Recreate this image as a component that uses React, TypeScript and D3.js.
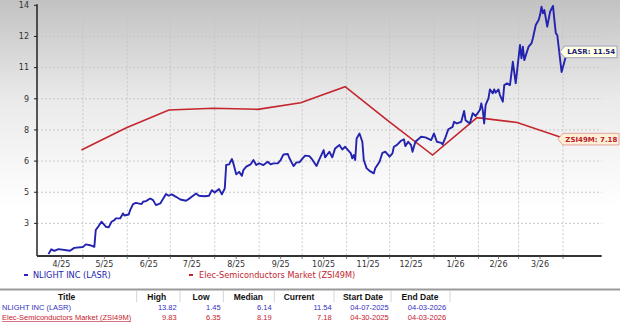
import React from "react";
import * as d3 from "d3";

const lasrDates = [
  "2025-04-07","2025-04-09","2025-04-11","2025-04-14","2025-04-22","2025-04-25","2025-05-01","2025-05-03","2025-05-06","2025-05-09",
  "2025-05-10","2025-05-12","2025-05-14","2025-05-17","2025-05-19","2025-05-21","2025-05-23","2025-05-24","2025-05-27","2025-05-29",
  "2025-05-30","2025-06-02","2025-06-03","2025-06-05","2025-06-07","2025-06-11","2025-06-12","2025-06-14","2025-06-17","2025-06-19",
  "2025-06-21","2025-06-24","2025-06-28","2025-06-30","2025-07-02","2025-07-05","2025-07-08","2025-07-12","2025-07-15","2025-07-19",
  "2025-07-21","2025-07-25","2025-07-28","2025-07-30","2025-08-01","2025-08-02","2025-08-04","2025-08-06","2025-08-08","2025-08-09",
  "2025-08-11","2025-08-13","2025-08-14","2025-08-16","2025-08-18","2025-08-20","2025-08-21","2025-08-23","2025-08-26","2025-08-28",
  "2025-08-30","2025-09-01","2025-09-04","2025-09-07","2025-09-09","2025-09-11","2025-09-14","2025-09-16","2025-09-18","2025-09-21",
  "2025-09-22","2025-09-25","2025-09-27","2025-09-29","2025-10-03","2025-10-06","2025-10-08","2025-10-11","2025-10-13","2025-10-16",
  "2025-10-17","2025-10-20","2025-10-22","2025-10-24","2025-10-27","2025-10-29","2025-10-31","2025-11-02","2025-11-04","2025-11-05",
  "2025-11-06","2025-11-07","2025-11-08","2025-11-10","2025-11-12","2025-11-13","2025-11-15","2025-11-17","2025-11-20","2025-11-21",
  "2025-11-24","2025-11-26","2025-11-28","2025-12-01","2025-12-03","2025-12-04","2025-12-06","2025-12-09","2025-12-11","2025-12-12",
  "2025-12-14","2025-12-16","2025-12-17","2025-12-19","2025-12-23","2025-12-26","2025-12-30","2026-01-01","2026-01-03","2026-01-06",
  "2026-01-07","2026-01-09","2026-01-11","2026-01-14","2026-01-15","2026-01-17","2026-01-20","2026-01-22","2026-01-23","2026-01-26",
  "2026-01-28","2026-01-30","2026-02-02","2026-02-03","2026-02-04","2026-02-05","2026-02-06","2026-02-08","2026-02-09","2026-02-11",
  "2026-02-12","2026-02-13","2026-02-15","2026-02-16","2026-02-18","2026-02-19","2026-02-21","2026-02-23","2026-02-25","2026-02-27",
  "2026-03-02","2026-03-03","2026-03-04","2026-03-05","2026-03-08","2026-03-10","2026-03-11","2026-03-13","2026-03-15","2026-03-16",
  "2026-03-17","2026-03-18","2026-03-19","2026-03-21","2026-03-23","2026-03-25","2026-03-26","2026-03-27","2026-03-28","2026-03-31",
  "2026-04-03"
];
const lasrValues = [
  2.02,2.25,2.18,2.26,2.18,2.32,2.36,2.49,2.45,2.37,
  3.18,3.37,3.58,3.34,3.31,3.58,3.66,3.74,3.74,3.98,
  3.88,3.93,4.14,4.43,4.49,4.43,4.54,4.57,4.70,4.62,
  4.38,4.46,4.91,4.83,4.90,4.78,4.65,4.59,4.73,4.94,
  4.83,4.81,4.83,5.10,4.99,5.05,5.15,4.90,5.18,6.31,
  6.34,6.60,6.39,5.86,5.98,5.79,6.07,6.23,6.34,6.55,
  6.31,6.39,6.31,6.47,6.34,6.39,6.39,6.55,6.82,6.84,
  6.66,6.26,6.44,6.44,6.76,6.74,6.58,6.26,6.58,7.03,
  6.68,6.95,6.68,7.11,7.27,7.06,7.19,7.03,6.87,6.63,
  6.79,6.55,7.59,7.83,7.43,6.55,6.15,6.03,5.91,6.15,
  6.47,6.90,6.95,6.71,6.87,7.19,7.27,7.48,7.55,7.22,
  7.43,7.27,6.95,7.43,7.67,7.64,7.51,7.83,7.43,7.38,
  7.30,7.64,8.03,8.15,8.39,8.31,8.39,8.91,8.47,8.31,
  8.80,8.67,8.96,9.28,8.96,8.31,9.20,9.52,9.95,9.76,
  9.95,9.79,9.95,9.68,9.36,10.16,10.24,10.16,11.28,10.24,
  12.09,11.45,12.01,11.36,12.01,12.17,12.41,13.05,13.29,13.53,
  13.93,13.61,13.77,12.97,13.69,13.97,13.29,12.65,12.57,10.79,
  11.54
];

const zsiDates = [
  "2025-04-30","2025-05-31","2025-06-30","2025-07-31","2025-08-31","2025-09-30",
  "2025-10-31","2025-11-30","2025-12-31","2026-01-31","2026-02-28","2026-03-31","2026-04-03"
];
const zsiValues = [7.03, 8.09, 8.96, 9.04, 8.99, 9.31, 10.08, 8.43, 6.79, 8.59, 8.36, 7.64, 7.58];

const yTickValues = [3.5, 5, 6.5, 8, 9.5, 11, 12.5, 14];
const yTickLabels = ["3", "5", "6", "8", "9", "11", "12", "14"];

const xTickLabels = ["4/25","5/25","6/25","7/25","8/25","9/25","10/25","11/25","12/25","1/26","2/26","3/26"];
const xTickDates = ["2025-04-16","2025-05-16","2025-06-16","2025-07-16","2025-08-16","2025-09-16","2025-10-16","2025-11-16","2025-12-16","2026-01-16","2026-02-15","2026-03-16"];

const seriesNames = ["NLIGHT INC (LASR)", "Elec-Semiconductors Market (ZSI49M)"];
const seriesColors = ["#2323b0", "#c4262e"];
const labelTexts = ["LASR: 11.54", "ZSI49M: 7.18"];

const tableHeaders = ["Title", "High", "Low", "Median", "Current", "Start Date", "End Date"];
const tableRows = [
  ["NLIGHT INC (LASR)", "13.82", "1.45", "6.14", "11.54", "04-07-2025", "04-03-2026"],
  ["Elec-Semiconductors Market (ZSI49M)", "9.83", "6.35", "8.19", "7.18", "04-30-2025", "04-03-2026"],
];

const parse = d3.timeParse("%Y-%m-%d");

export default function App() {
  const W = 620, H = 323;
  const left = 37, right = 601.7, top = 5.3, bottom = 256;
  const x = d3.scaleTime().domain([parse("2025-03-30")!, parse("2026-04-28")!]).range([left, right]);
  const y = d3.scaleLinear().domain([1.93, 14]).range([bottom, top]);

  const lasr = lasrDates.map((d, i) => ({ d: parse(d)!, v: lasrValues[i] }));
  const zsi = zsiDates.map((d, i) => ({ d: parse(d)!, v: zsiValues[i] }));
  const line = d3.line<{ d: Date; v: number }>().x((p) => x(p.d)).y((p) => y(p.v));

  const monthStarts = d3.timeMonth.range(parse("2025-05-01")!, parse("2026-04-02")!);
  const midTicks = xTickDates.map((d) => parse(d)!);

  const font = "DejaVu Sans, Verdana, sans-serif";
  const tfont = "Liberation Sans, Arial, sans-serif";

  const lastL = lasr[lasr.length - 1];
  const lastZ = zsi[zsi.length - 1];
  const boxes = [
    { tip: x(lastL.d) - 6, cy: y(lastL.v) - 4.5, right: 617, fill: "#ffffe4", stroke: "#8c8cb8", color: "#1c1c7a", text: labelTexts[0] },
    { tip: x(lastZ.d) - 8, cy: y(lastZ.v) + 0.5, right: 619, fill: "#fdf0d6", stroke: "#e09090", color: "#b8202c", text: labelTexts[1] },
  ];
  const boxPath = (tip: number, cy: number, r: number) => {
    const h = 5.8;
    return `M${tip},${cy} L${tip + 5},${cy - h} L${r},${cy - h} L${r},${cy + h} L${tip + 5},${cy + h} Z`;
  };

  const numRight = [176.7, 220.7, 271.7, 331.7];
  const dateCenters = [369.5, 427];
  const headerCenters = [66.7, 156.7, 201, 248.3, 299, 363, 420];
  const colSeps = [136.7, 180, 223.3, 274.3, 334, 391, 450];

  return (
    <svg width={W} height={H} style={{ position: "absolute", left: 0, top: 0, background: "#fff" }}>
      <defs>
        <linearGradient id="bg" x1="0" y1="0" x2="0" y2="1">
          <stop offset="0%" stopColor="#c2c2c2" />
          <stop offset="38%" stopColor="#eaeaea" />
          <stop offset="80%" stopColor="#ffffff" />
        </linearGradient>
      </defs>
      <rect x={0} y={0} width={W} height={260} fill="url(#bg)" />

      {/* grid */}
      {yTickValues.map((t, i) => (
        <line key={"hg" + i} x1={left} x2={right} y1={y(t)} y2={y(t)} stroke="#c4c4c4" strokeDasharray="2,2" strokeWidth={0.9} />
      ))}
      {monthStarts.map((m, i) => (
        <line key={"vg" + i} x1={x(m)} x2={x(m)} y1={top} y2={bottom} stroke="#c4c4c4" strokeDasharray="2,2" strokeWidth={0.9} />
      ))}

      {/* axes */}
      <line x1={left} x2={left} y1={top - 1} y2={bottom} stroke="#222" strokeWidth={1.5} />
      {yTickValues.map((t, i) => (
        <g key={"yt" + i}>
          <line x1={left - 3} x2={left} y1={y(t)} y2={y(t)} stroke="#222" strokeWidth={1} />
          <text x={left - 8} y={y(t)} dy="0.35em" textAnchor="end" fontFamily={font} fontSize={8} fill="#333">
            {yTickLabels[i]}
          </text>
        </g>
      ))}
      <line x1={left} x2={right} y1={bottom} y2={bottom} stroke="#333" strokeWidth={2} />
      {[...monthStarts, ...midTicks].map((m, i) => (
        <line key={"xt" + i} x1={x(m)} x2={x(m)} y1={bottom} y2={bottom + 3} stroke="#555" strokeWidth={0.8} />
      ))}
      {midTicks.map((m, i) => (
        <text key={"xl" + i} x={x(m)} y={264} dy="0.35em" textAnchor="middle" fontFamily={font} fontSize={8} fill="#333">
          {xTickLabels[i]}
        </text>
      ))}

      {/* lines */}
      <path d={line(zsi) || ""} fill="none" stroke={seriesColors[1]} strokeWidth={1.6} />
      <path d={line(lasr) || ""} fill="none" stroke={seriesColors[0]} strokeWidth={1.9} strokeLinejoin="round" />

      {/* end labels */}
      {boxes.map((b, i) => (
        <g key={"bx" + i}>
          <path d={boxPath(b.tip, b.cy, b.right)} fill={b.fill} stroke={b.stroke} strokeWidth={0.8} />
          <text x={b.tip + 7.5} y={b.cy} dy="0.35em" fontFamily={font} fontSize={7} fontWeight="bold" fill={b.color}>
            {b.text}
          </text>
        </g>
      ))}

      {/* legend */}
      <line x1={24} x2={28} y1={275} y2={275} stroke={seriesColors[0]} strokeWidth={2} />
      <text x={33} y={275} dy="0.35em" fontFamily={font} fontSize={8.2} fill={seriesColors[0]}>{seriesNames[0]}</text>
      <line x1={189} x2={193} y1={275} y2={275} stroke={seriesColors[1]} strokeWidth={2} />
      <text x={199} y={275} dy="0.35em" fontFamily={font} fontSize={8.2} fill={seriesColors[1]}>{seriesNames[1]}</text>

      {/* table */}
      <line x1={0} x2={W} y1={289.5} y2={289.5} stroke="#9a9a9a" strokeWidth={1.8} />
      {colSeps.map((c, i) => (
        <line key={"cs" + i} x1={c} x2={c} y1={291} y2={302} stroke="#d4d4d4" strokeWidth={1} />
      ))}
      {tableHeaders.map((h, i) => (
        <text key={"th" + i} x={headerCenters[i]} y={297.5} dy="0.35em" textAnchor="middle" fontFamily={tfont} fontSize={8.5} fontWeight="bold" fill="#111">
          {h}
        </text>
      ))}
      {tableRows.map((row, r) => {
        const cy = 307.5 + r * 10;
        const col = r === 0 ? "#3030c0" : "#c8202c";
        return (
          <g key={"tr" + r}>
            <text x={2} y={cy} dy="0.35em" fontFamily={tfont} fontSize={7.5} fill={col}>{row[0]}</text>
            {r === 1 && <line x1={2} x2={131} y1={cy + 4} y2={cy + 4} stroke="#d86070" strokeWidth={0.9} />}
            {numRight.map((nx, j) => (
              <text key={"n" + j} x={nx} y={cy} dy="0.35em" textAnchor="end" fontFamily={tfont} fontSize={7.5} fill={col}>{row[j + 1]}</text>
            ))}
            {dateCenters.map((dx, j) => (
              <text key={"d" + j} x={dx} y={cy} dy="0.35em" textAnchor="middle" fontFamily={tfont} fontSize={7.5} fill={col}>{row[j + 5]}</text>
            ))}
          </g>
        );
      })}
    </svg>
  );
}
